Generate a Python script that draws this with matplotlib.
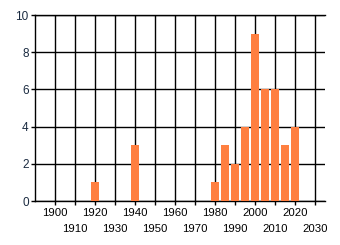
import matplotlib
matplotlib.use("Agg")
import matplotlib.pyplot as plt

years = [1920, 1940, 1980, 1985, 1990, 1995, 2000, 2005, 2010, 2015, 2020]
counts = [1, 3, 1, 3, 2, 4, 9, 6, 6, 3, 4]
major_ticks = [1900, 1920, 1940, 1960, 1980, 2000, 2020]
minor_ticks = [1910, 1930, 1950, 1970, 1990, 2010, 2030]
y_ticks = [0, 2, 4, 6, 8, 10]

plt.rcParams['font.family'] = ['Liberation Sans', 'DejaVu Sans']

fig = plt.figure(figsize=(3.4, 2.45), dpi=100)
ax = fig.add_axes([35/340, 1-201/245, 290/340, 186/245])
ax.set_axisbelow(True)
ax.bar(years, counts, width=4, color='#FF7F40', edgecolor='none', zorder=3)
ax.set_xlim(1890, 2035)
ax.set_ylim(0, 10)
ax.set_xticks(major_ticks)
ax.set_xticks(minor_ticks, minor=True)
ax.set_xticklabels([str(t) for t in major_ticks])
ax.set_xticklabels([str(t) for t in minor_ticks], minor=True)
ax.set_yticks(y_ticks)
ax.set_yticklabels([str(t) for t in y_ticks])
ax.grid(True, which='both', color='black', linewidth=1.0)
ax.tick_params(axis='x', which='major', length=3, width=1.0, pad=2, labelsize=8.2, colors='black')
ax.tick_params(axis='x', which='minor', length=3, width=1.0, pad=13.5, labelsize=8.2, colors='black')
ax.tick_params(axis='y', length=3, width=1.0, pad=1.5, labelsize=8.5, colors='black')
for t in ax.get_yticklabels():
    t.set_color('#1a2a40')
ax.spines['right'].set_visible(False)
for s in ['left', 'bottom', 'top']:
    ax.spines[s].set_linewidth(1.0)
    ax.spines[s].set_color('black')
fig.savefig('out.png', dpi=100)
